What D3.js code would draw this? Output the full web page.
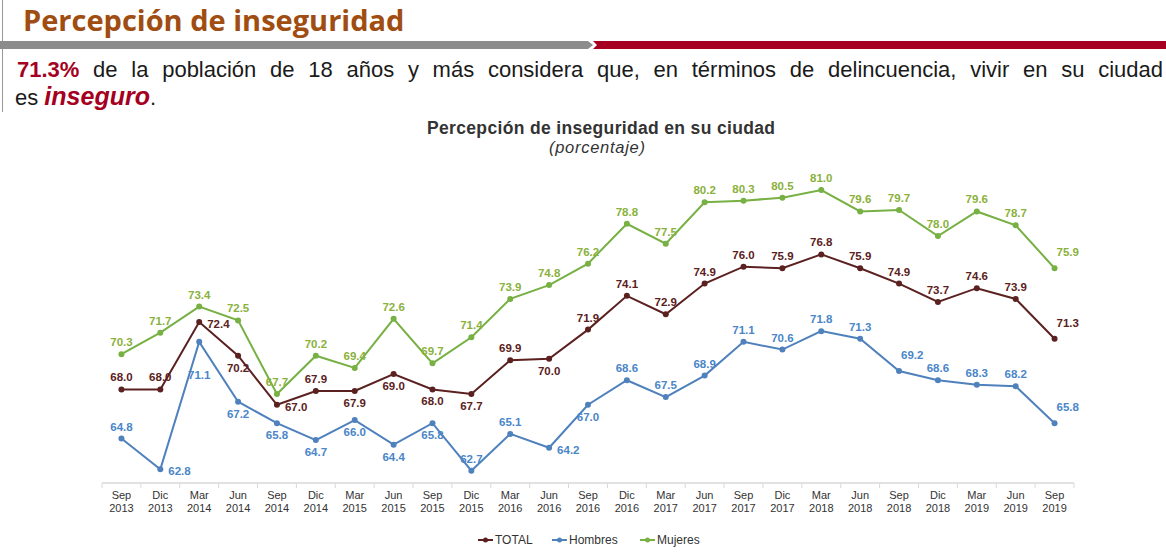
<!DOCTYPE html>
<html>
<head>
<meta charset="utf-8">
<script src="https://cdn.jsdelivr.net/npm/d3@7"></script>
<style>
  body { margin: 0; background: #fff; }
  svg { display: block; }
</style>
</head>
<body>
<div id="chart"></div>
<script>
// periodos de la encuesta (ENSU)
const months = ["Sep","Dic","Mar","Jun","Sep","Dic","Mar","Jun","Sep","Dic","Mar","Jun","Sep","Dic","Mar","Jun","Sep","Dic","Mar","Jun","Sep","Dic","Mar","Jun","Sep"]
const years = ["2013","2013","2014","2014","2014","2014","2015","2015","2015","2015","2016","2016","2016","2016","2017","2017","2017","2017","2018","2018","2018","2018","2019","2019","2019"]

const total   = [68.0,68.0,72.4,70.2,67.0,67.9,67.9,69.0,68.0,67.7,69.9,70.0,71.9,74.1,72.9,74.9,76.0,75.9,76.8,75.9,74.9,73.7,74.6,73.9,71.3]
const hombres = [64.8,62.8,71.1,67.2,65.8,64.7,66.0,64.4,65.8,62.7,65.1,64.2,67.0,68.6,67.5,68.9,71.1,70.6,71.8,71.3,69.2,68.6,68.3,68.2,65.8]
const mujeres = [70.3,71.7,73.4,72.5,67.7,70.2,69.4,72.6,69.7,71.4,73.9,74.8,76.2,78.8,77.5,80.2,80.3,80.5,81.0,79.6,79.7,78.0,79.6,78.7,75.9]

const width = 1166, height = 554
const font = "'Liberation Sans', Arial, sans-serif"

const svg = d3.select("#chart").append("svg")
    .attr("width", width)
    .attr("height", height)

// --- encabezado ---
svg.append("line")
    .attr("x1", 2.5).attr("x2", 2.5).attr("y1", 0).attr("y2", 112)
    .attr("stroke", "#999").attr("stroke-width", 1)

svg.append("text")
    .attr("x", 23).attr("y", 31)
    .style("font-family", "'Open Sans', sans-serif")
    .style("font-weight", 700)
    .style("font-size", "29px")
    .attr("fill", "#a04d12")
    .text("Percepción de inseguridad")

// barra gris con flecha + barra roja
svg.append("path")
    .attr("d", "M0,41 L588,41 L593,45 L588,49 L0,49 Z")
    .attr("fill", "#8c8c8c")
svg.append("path")
    .attr("d", "M593,41 L1166,41 L1166,49 L593,49 L597,45 Z")
    .attr("fill", "#a50021")

const intro = svg.append("text")
    .attr("x", 17).attr("y", 77)
    .style("font-family", font)
    .style("font-size", "22px")
    .attr("fill", "#1a1a1a")
intro.append("tspan").attr("fill", "#a50021").style("font-weight", "bold").text("71.3%")
const rest = " de la población de 18 años y más considera que, en términos de delincuencia, vivir en su ciudad"
intro.append("tspan").text(rest)
// justificado: repartir el espacio sobrante entre las palabras
const w0 = intro.node().getComputedTextLength()
const gaps = rest.split(" ").length - 1
intro.style("word-spacing", ((1146 - w0) / gaps) + "px")

const intro2 = svg.append("text")
    .attr("x", 15).attr("y", 105)
    .style("font-family", font)
    .style("font-size", "22px")
    .attr("fill", "#1a1a1a")
intro2.append("tspan").text("es ")
intro2.append("tspan").attr("fill", "#a50021")
    .style("font-weight", "bold").style("font-style", "italic").style("font-size", "25px")
    .text("inseguro")
intro2.append("tspan").text(".")

// --- título de la gráfica ---
svg.append("text")
    .attr("x", 427).attr("y", 134)
    .attr("textLength", 348)
    .style("font-family", font)
    .style("font-weight", "bold")
    .style("font-size", "17.5px")
    .attr("fill", "#333")
    .text("Percepción de inseguridad en su ciudad")
svg.append("text")
    .attr("x", 549).attr("y", 153)
    .attr("textLength", 96)
    .style("font-family", font)
    .style("font-style", "italic")
    .style("font-size", "16.5px")
    .attr("fill", "#333")
    .text("(porcentaje)")

// --- escalas ---
const idx = d3.range(months.length)
const x = d3.scaleBand().domain(idx).range([102, 1074])
const cx = i => x(i) + x.bandwidth() / 2
const y = d3.scaleLinear().domain([61.9, 81]).range([483, 190])

// eje x
svg.append("line")
    .attr("x1", 102).attr("x2", 1074).attr("y1", 483).attr("y2", 483)
    .attr("stroke", "#d9d9d9").attr("stroke-width", 1.5)
svg.selectAll(".tick")
  .data(d3.range(months.length + 1))
  .join("line")
    .attr("x1", d => 102 + d * x.bandwidth())
    .attr("x2", d => 102 + d * x.bandwidth())
    .attr("y1", 483).attr("y2", 488)
    .attr("stroke", "#d9d9d9")

const xl = svg.append("g")
    .style("font-family", font)
    .style("font-size", "11px")
    .attr("fill", "#333")
    .attr("text-anchor", "middle")
xl.selectAll(".m").data(idx).join("text")
    .attr("x", d => cx(d)).attr("y", 499)
    .text(d => months[d])
xl.selectAll(".yr").data(idx).join("text")
    .attr("x", d => cx(d)).attr("y", 512)
    .text(d => years[d])

// --- series ---
// posición de etiqueta: "a" arriba, "b" abajo, "r" derecha
const series = [
  { name: "TOTAL", values: total, line: "#5b2121", label: "#5b2121",
    pos: "aarbrabbbbabaaaaaaaaaaaaR".split("") },
  { name: "Hombres", values: hombres, line: "#4f81bd", label: "#4a86c8",
    pos: "arBbbbbbbaarbaaaaaaaRaaaR".split("") },
  { name: "Mujeres", values: mujeres, line: "#77b043", label: "#8ab13c",
    pos: "aaaaaaaaaaaaaaaaaaaaaaaaR".split("") }
]

const line = d3.line()
    .x((d, i) => cx(i))
    .y(d => y(d))

series.forEach(s => {
  const g = svg.append("g")
  g.append("path")
      .datum(s.values)
      .attr("d", line)
      .attr("fill", "none")
      .attr("stroke", s.line)
      .attr("stroke-width", 2)
  g.selectAll("circle")
    .data(s.values)
    .join("circle")
      .attr("cx", (d, i) => cx(i))
      .attr("cy", d => y(d))
      .attr("r", 3)
      .attr("fill", s.line)
  g.selectAll("text")
    .data(s.values)
    .join("text")
      .attr("x", (d, i) => {
        const p = s.pos[i]
        if (p === "r") return cx(i) + 8
        if (p === "R") return cx(i) + 2
        return cx(i)
      })
      .attr("y", (d, i) => {
        const p = s.pos[i]
        if (p === "a") return y(d) - 8
        if (p === "R") return y(d) - 12
        if (p === "b") return y(d) + 16
        if (p === "B") return y(d) + 37
        return y(d) + 6
      })
      .attr("text-anchor", (d, i) => (s.pos[i] === "r" || s.pos[i] === "R") ? "start" : "middle")
      .style("font-family", font)
      .style("font-weight", "bold")
      .style("font-size", "11.5px")
      .attr("fill", s.label)
      .text(d => d.toFixed(1))
})

// --- leyenda ---
const legendItems = [
  { name: "TOTAL", color: "#5b2121", x: 478 },
  { name: "Hombres", color: "#4f81bd", x: 552 },
  { name: "Mujeres", color: "#77b043", x: 640 }
]
const lg = svg.append("g")
legendItems.forEach(d => {
  lg.append("line")
      .attr("x1", d.x).attr("x2", d.x + 15).attr("y1", 540).attr("y2", 540)
      .attr("stroke", d.color).attr("stroke-width", 2)
  lg.append("circle")
      .attr("cx", d.x + 7.5).attr("cy", 540).attr("r", 2.5)
      .attr("fill", d.color)
  lg.append("text")
      .attr("x", d.x + 17).attr("y", 544)
      .style("font-family", font)
      .style("font-size", "12px")
      .attr("fill", "#333")
      .text(d.name)
})
</script>
</body>
</html>
